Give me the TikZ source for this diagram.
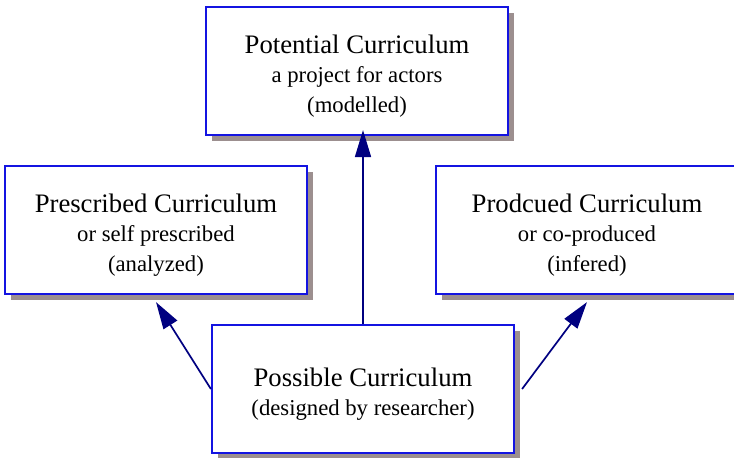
\documentclass[tikz,border=0pt]{standalone}
\usepackage{fontspec}
\setmainfont{Liberation Serif}
\usetikzlibrary{shadows,arrows.meta}
\definecolor{boxblue}{RGB}{20,20,225}
\definecolor{shade}{RGB}{156,143,143}
\definecolor{linknavy}{RGB}{0,0,128}
\newcommand{\boxtitle}[1]{{\fontsize{26.7}{30}\selectfont #1}}
\begin{document}
\begin{tikzpicture}[x=1pt,y=-1pt,
    cbox/.style={draw=boxblue,line width=2.2pt,fill=white,
      minimum width=302pt,minimum height=128pt,inner sep=0pt,
      drop shadow={shadow xshift=6pt,shadow yshift=-6pt,fill=shade,opacity=1}},
    ctext/.style={align=center,inner sep=0pt,font=\fontsize{22.7}{29.5}\selectfont},
    link/.style={linknavy,line width=1.7pt,-{Triangle[length=27pt,width=16pt]}}]
   \useasboundingbox (0,0) rectangle (734,458);
   % boxes
   \node[cbox] (potential) at (357,71) {};
   \node[cbox] (prescribed) at (156,230) {};
   \node[cbox] (produced) at (587,230) {};
   \node[cbox] (possible) at (363,389) {};
   % texts
   \node[ctext] (potentialtext) at ([yshift=-5pt]potential.center) {\boxtitle{Potential Curriculum}\\a project for actors\\(modelled)};
   \node[ctext] (prescribedtext) at ([yshift=-5pt]prescribed.center) {\boxtitle{Prescribed Curriculum}\\or self prescribed\\(analyzed)};
   \node[ctext] (producedtext) at ([yshift=-5pt]produced.center) {\boxtitle{Prodcued Curriculum}\\or co-produced\\(infered)};
   \node[ctext] (possibletext) at ([yshift=-5pt]possible.center) {\boxtitle{Possible Curriculum}\\(designed by researcher)};
   % arrows
   \draw[link] (possible.west) -- ([yshift=-7pt]prescribed.south);
   \draw[link] ([xshift=7pt]possible.east) -- ([yshift=-7pt]produced.south);
   \draw[link,shorten >=-6pt] (possible.north) -- (possible.north |- potential.south);
\end{tikzpicture}
\end{document}
